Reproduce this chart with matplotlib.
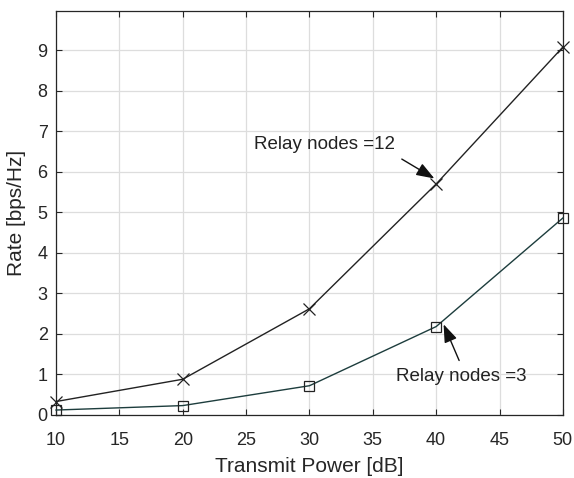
import matplotlib
matplotlib.use('Agg')
import matplotlib.pyplot as plt

# transmit power [dB]
power = [10, 20, 30, 40, 50]
# rate [bps/Hz]
rate_12 = [0.33, 0.88, 2.62, 5.70, 9.08]
rate_3 = [0.12, 0.23, 0.72, 2.18, 4.86]

x_ticks = [10, 15, 20, 25, 30, 35, 40, 45, 50]
y_ticks = [0, 1, 2, 3, 4, 5, 6, 7, 8, 9]

plt.rcParams['font.family'] = ['Liberation Sans', 'DejaVu Sans']

fig = plt.figure(figsize=(5.74, 4.78), dpi=100)
ax = fig.add_axes([0.0976, 0.132, 0.883, 0.845])

ax.plot(power, rate_12, color='#222222', lw=1.0, marker='x', ms=8, mew=0.9,
        clip_on=False, zorder=3)
ax.plot(power, rate_3, color='#1d3d3d', lw=1.0, marker='s', ms=7,
        mfc='none', mec='#222222', mew=0.9, clip_on=False, zorder=3)

ax.set_xlim(10, 50)
ax.set_ylim(0, 9.97)
ax.set_xticks(x_ticks)
ax.set_yticks(y_ticks)
ax.grid(True, color='#dddddd', lw=0.9)
ax.set_axisbelow(True)
ax.tick_params(direction='in', top=True, right=True, labelsize=13,
               colors='#262626', length=4)
ax.tick_params(axis='x', pad=12)
ax.tick_params(axis='y', pad=6)
for s in ax.spines.values():
    s.set_color('#262626')
    s.set_linewidth(0.9)

ax.set_xlabel('Transmit Power [dB]', fontsize=15, color='#262626', labelpad=6)
ax.set_ylabel('Rate [bps/Hz]', fontsize=15, color='#262626', labelpad=8)

# annotations
ax.text(25.6, 6.67, 'Relay nodes =12', fontsize=13.5, va='center', ha='left',
        color='#222222')
ax.annotate('', xy=(40.05, 5.8), xytext=(37.1, 6.35),
            arrowprops=dict(arrowstyle='-|>,head_length=1.1,head_width=0.4',
                            color='#111111', lw=1.0))
ax.text(36.8, 0.95, 'Relay nodes =3', fontsize=13.5, va='center', ha='left',
        color='#222222')
ax.annotate('', xy=(40.5, 2.3), xytext=(41.9, 1.28),
            arrowprops=dict(arrowstyle='-|>,head_length=1.1,head_width=0.4',
                            color='#111111', lw=1.0))

fig.savefig('out.png', dpi=100)
